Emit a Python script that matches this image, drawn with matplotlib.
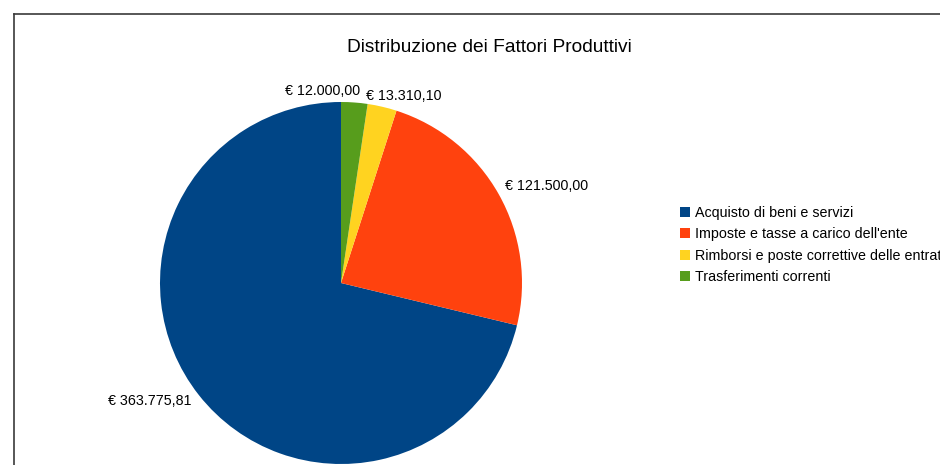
import matplotlib.pyplot as plt
from matplotlib.lines import Line2D

plt.rcParams['font.family'] = ['Liberation Sans', 'DejaVu Sans']

categorie = ['Acquisto di beni e servizi',
             "Imposte e tasse a carico dell'ente",
             'Rimborsi e poste correttive delle entrate',
             'Trasferimenti correnti']
importi = [363775.81, 121500.00, 13310.10, 12000.00]
etichette = ['€ 363.775,81', '€ 121.500,00', '€ 13.310,10', '€ 12.000,00']
colori = ['#004586', '#ff420e', '#ffd320', '#579d1c']

W, H = 940, 465
fig = plt.figure(figsize=(W / 100, H / 100), dpi=100)

# chart frame (only top and left edges are visible in the crop)
fig.add_artist(Line2D([13.5 / W, 13.5 / W], [1 - 14 / H, 0], color='#3a3a3a', lw=1.2))
fig.add_artist(Line2D([13.5 / W, 1], [1 - 14.5 / H, 1 - 14.5 / H], color='#3a3a3a', lw=1.2))

fig.text(489 / W, 1 - 47 / H, 'Distribuzione dei Fattori Produttivi',
         ha='center', va='center', fontsize=13.8)

# pie centred at (341, 283) px with radius 181 px
ax = fig.add_axes([160 / W, (H - 464) / H, 362 / W, 362 / H])
wedges, texts = ax.pie(importi, colors=colori, startangle=90, counterclock=True,
                       labels=etichette, labeldistance=1.05,
                       wedgeprops=dict(linewidth=0),
                       textprops=dict(fontsize=10.3))
ax.set_xlim(-1, 1)
ax.set_ylim(-1, 1)

# hand tweaks so the labels sit where the original put them
def sposta(t, dx, dy):
    x, y = t.get_position()
    t.set_position((x + dx, y + dy))

texts[3].set_ha('right')
sposta(texts[3], 0.03, 0.015)
texts[2].set_ha('left')
sposta(texts[2], -0.1, 0.01)
sposta(texts[1], -0.01, 0.02)

fig.legend(wedges, categorie, loc='center left',
           bbox_to_anchor=(674 / W, 1 - 245 / H), frameon=False,
           fontsize=10.3, handlelength=0.7, handleheight=0.7,
           handletextpad=0.35, labelspacing=0.5, borderaxespad=0)

plt.savefig('out.png', dpi=100)
